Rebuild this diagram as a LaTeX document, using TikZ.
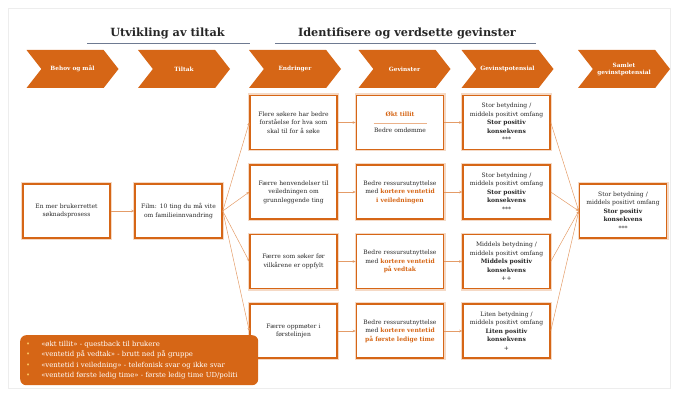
\documentclass[tikz,border=0pt]{standalone}
\usepackage{fontspec}
\setmainfont{DejaVu Serif}
\usetikzlibrary{positioning,shapes.symbols,arrows.meta}
\definecolor{pwcorange}{RGB}{214,102,22}
\definecolor{linegray}{RGB}{110,122,145}
\definecolor{txt}{RGB}{40,40,40}
\definecolor{bulletyellow}{RGB}{250,195,95}
\newcommand{\uthev}[1]{\textcolor{pwcorange}{\textbf{#1}}}

\begin{document}
\begin{tikzpicture}[
    x=1pt, y=-1pt,
    node distance=14pt and 18pt,
    every node/.style={font=\fontsize{6}{8.4}\selectfont, text=txt},
    % Overskrifter over fasene
    heading/.style={font=\fontsize{11.3}{13}\selectfont\bfseries, text=black!85},
    % Pilformer i toppen
    phase/.style={signal, signal from=west, signal to=east, signal pointer angle=104,
                  fill=pwcorange, minimum width=92pt, minimum height=38pt, inner sep=0pt,
                  text=white, font=\fontsize{5.8}{7}\selectfont\bfseries, align=center},
    % Bokser med oransje ramme
    boks/.style={rectangle, draw=pwcorange, line width=1.5pt, fill=white,
                 minimum width=87pt, minimum height=54pt, text width=82pt, align=center,
                 inner sep=1pt, preaction={draw=pwcorange!25, line width=4pt}},
    link/.style={-{Stealth[length=3pt,width=2.5pt]}, pwcorange!65, line width=0.5pt},
    notat/.style={rectangle, rounded corners=6pt, fill=pwcorange, text=white,
                  minimum width=238pt, minimum height=50pt, text width=226pt,
                  align=left, inner xsep=6pt, font=\fontsize{6.9}{10.4}\selectfont}
]
\useasboundingbox (0,0) rectangle (676,395);
\draw[black!7] (8,8) rectangle (670,388);

% --- Overskrifter ---
\node[heading] (utv) at (167.5,33) {Utvikling av tiltak};
\node[heading] (ident) at (407,33) {Identifisere og verdsette gevinster};
\draw[linegray, line width=0.8pt] (87,43) -- (250,43);
\draw[linegray, line width=0.8pt] (275,43) -- (536,43);

% --- Faser ---
\node[phase] (f1) at (72.5,69) {Behov og mål};
\node[phase] (f2) at (184,69) {Tiltak};
\node[phase] (f3) at (295,69) {Endringer};
\node[phase] (f4) at (404.5,69) {Gevinster};
\node[phase] (f5) at (507.5,69) {Gevinstpotensial};
\node[phase] (f6) at (624,69) {Samlet\\gevinstpotensial};

% --- Behov og tiltak ---
\node[boks] (mal) at (66.5,211) {En mer brukerrettet\\søknadsprosess};
\node[boks] (film) at (178.5,211) {Film: 10 ting du må vite\\om familieinnvandring};

% --- Endringer ---
\node[boks] (e1) at (293.5,122.5) {Flere søkere har bedre\\forståelse for hva som\\skal til for å søke};
\node[boks, below=of e1] (e2) {Færre henvendelser til\\veiledningen om\\grunnleggende ting};
\node[boks, below=of e2] (e3) {Færre som søker før\\vilkårene er oppfylt};
\node[boks, below=of e3] (e4) {Færre oppmøter i\\førstelinjen};

% --- Gevinster ---
\node[boks, right=of e1] (g1) {\uthev{Økt tillit}\\[-2pt]{\color{pwcorange!50}\rule{53pt}{0.4pt}}\\[1pt]Bedre omdømme};
\node[boks, right=of e2] (g2) {Bedre ressursutnyttelse\\med \uthev{kortere ventetid}\\\uthev{i veiledningen}};
\node[boks, right=of e3] (g3) {Bedre ressursutnyttelse\\med \uthev{kortere ventetid}\\\uthev{på vedtak}};
\node[boks, right=of e4] (g4) {Bedre ressursutnyttelse\\med \uthev{kortere ventetid}\\\uthev{på første ledige time}};

% --- Gevinstpotensial ---
\node[boks, right=of g1] (p1) {Stor betydning /\\middels positivt omfang\\\textbf{Stor positiv}\\\textbf{konsekvens}\\{}***};
\node[boks, right=of g2] (p2) {Stor betydning /\\middels positivt omfang\\\textbf{Stor positiv}\\\textbf{konsekvens}\\{}***};
\node[boks, right=of g3] (p3) {Middels betydning /\\middels positivt omfang\\\textbf{Middels positiv}\\\textbf{konsekvens}\\{}++};
\node[boks, right=of g4] (p4) {Liten betydning /\\middels positivt omfang\\\textbf{Liten positiv}\\\textbf{konsekvens}\\{}+};

% --- Samlet gevinstpotensial ---
\node[boks] (total) at (623,211) {Stor betydning /\\middels positivt omfang\\\textbf{Stor positiv}\\\textbf{konsekvens}\\{}***};

% --- Piler ---
\draw[link] (mal) -- (film);
\foreach \i in {1,...,4} {
  \draw[link] (film.east) -- (e\i.west);
  \draw[link] (e\i) -- (g\i);
  \draw[link] (g\i) -- (p\i);
  \draw[link] (p\i.east) -- (total.west);
}

% --- Notat nederst ---
\node[notat, anchor=north west] (note) at (20,335) {%
  \textcolor{bulletyellow}{•}\hspace{11pt}«økt tillit» - questback til brukere\\
  \textcolor{bulletyellow}{•}\hspace{11pt}«ventetid på vedtak» - brutt ned på gruppe\\
  \textcolor{bulletyellow}{•}\hspace{11pt}«ventetid i veiledning» - telefonisk svar og ikke svar\\
  \textcolor{bulletyellow}{•}\hspace{11pt}«ventetid første ledig time» - første ledig time UD/politi};

\end{tikzpicture}
\end{document}
